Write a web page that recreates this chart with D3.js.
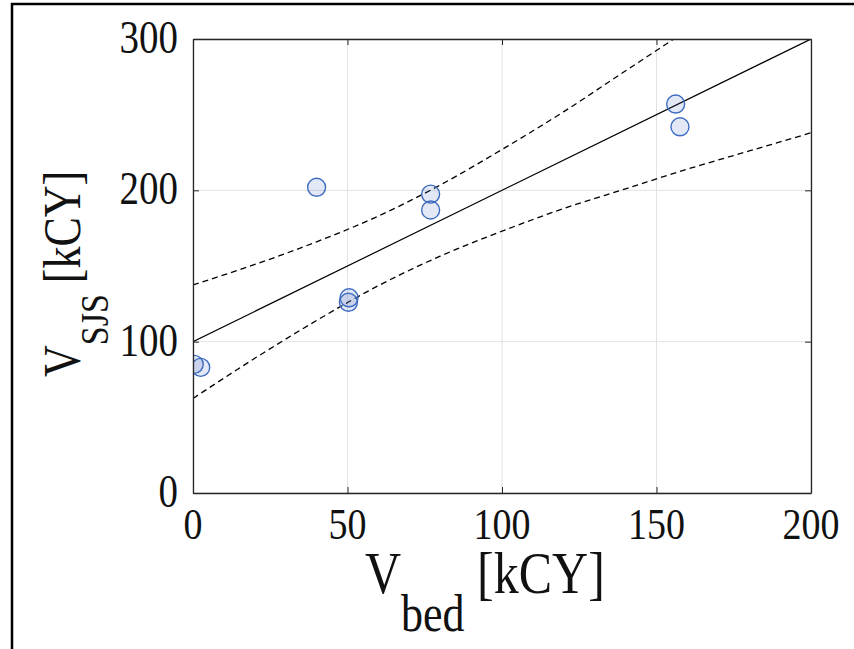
<!DOCTYPE html>
<html>
<head>
<meta charset="utf-8">
<script src="https://cdn.jsdelivr.net/npm/d3@7"></script>
<style>
  body { margin: 0; background: #fff; }
  svg { display: block; }
  text { font-family: "Liberation Serif", "Times New Roman", serif; fill: #111; }
</style>
</head>
<body>
<svg id="chart" width="854" height="649"></svg>
<script>
// measured points
const vBed = [0.4, 2.5, 40, 50.5, 50.3, 76.9, 76.9, 156.2, 157.6];
const vSjs = [85, 83, 202, 129, 126, 197.5, 187, 257, 242];

// fitted line and dashed bounds
const fitX = [0, 200];
const fitY = [100, 300];
const boundX = [0, 20, 40, 60, 80, 100, 120, 140, 160, 180, 200];
const upperY = [137.5, 151, 166, 183, 203.5, 227, 252, 279, 306, 334, 362];
const lowerY = [62.5, 89, 114, 137, 156.5, 173, 188, 201, 214, 226, 238];

const xTicks = [0, 50, 100, 150, 200];
const yTicks = [0, 100, 200, 300];

const svg = d3.select('#chart');
const pLeft = 193, pRight = 811, pTop = 39, pBottom = 493;
const stretch = 1.18; // the glyphs in the figure are taller than plain Times

const x = d3.scaleLinear().domain([0, 200]).range([pLeft, pRight]);
const y = d3.scaleLinear().domain([0, 300]).range([pBottom, pTop]);

// outer frame (top and left edges only)
svg.append('line').attr('x1', 11).attr('x2', 854).attr('y1', 4).attr('y2', 4)
  .attr('stroke', '#000').attr('stroke-width', 2.5);
svg.append('line').attr('x1', 12).attr('x2', 12).attr('y1', 3).attr('y2', 649)
  .attr('stroke', '#000').attr('stroke-width', 2.5);

// grid
svg.append('g')
  .selectAll('line')
  .data(xTicks)
  .enter()
  .append('line')
  .attr('x1', (d) => x(d)).attr('x2', (d) => x(d))
  .attr('y1', pTop).attr('y2', pBottom)
  .attr('stroke', '#e2e2e2').attr('stroke-width', 1);
svg.append('g')
  .selectAll('line')
  .data(yTicks)
  .enter()
  .append('line')
  .attr('x1', pLeft).attr('x2', pRight)
  .attr('y1', (d) => y(d)).attr('y2', (d) => y(d))
  .attr('stroke', '#e2e2e2').attr('stroke-width', 1);

svg.append('clipPath').attr('id', 'clip')
  .append('rect').attr('x', pLeft).attr('y', pTop)
  .attr('width', pRight - pLeft).attr('height', pBottom - pTop);

const plot = svg.append('g').attr('clip-path', 'url(#clip)');

const curve = d3.line().x((d) => x(d[0])).y((d) => y(d[1])).curve(d3.curveMonotoneX);

plot.append('path')
  .datum(fitX.map((v, i) => [v, fitY[i]]))
  .attr('d', curve)
  .attr('fill', 'none').attr('stroke', '#000').attr('stroke-width', 1.2);

[upperY, lowerY].forEach((ys) => {
  plot.append('path')
    .datum(boundX.map((v, i) => [v, ys[i]]))
    .attr('d', curve)
    .attr('fill', 'none').attr('stroke', '#000').attr('stroke-width', 1.3)
    .attr('stroke-dasharray', '6,4');
});

plot.selectAll('circle')
  .data(vBed.map((v, i) => [v, vSjs[i]]))
  .enter()
  .append('circle')
  .attr('cx', (d) => x(d[0]))
  .attr('cy', (d) => y(d[1]))
  .attr('r', 9)
  .attr('fill', 'rgba(60,100,190,0.15)')
  .attr('stroke', '#3d6cc0').attr('stroke-width', 1.4);

// axes: box with inward ticks on all sides
const tick = 6;
const axisCol = '#262626';
svg.append('g').attr('transform', `translate(0,${pBottom})`)
  .call(d3.axisBottom(x).tickValues(xTicks).tickSizeInner(-tick).tickSizeOuter(0).tickFormat(''))
  .call((g) => g.selectAll('line,path').attr('stroke', axisCol));
svg.append('g').attr('transform', `translate(0,${pTop})`)
  .call(d3.axisTop(x).tickValues(xTicks).tickSizeInner(-tick).tickSizeOuter(0).tickFormat(''))
  .call((g) => g.selectAll('line,path').attr('stroke', axisCol));
svg.append('g').attr('transform', `translate(${pLeft},0)`)
  .call(d3.axisLeft(y).tickValues(yTicks).tickSizeInner(-tick).tickSizeOuter(0).tickFormat(''))
  .call((g) => g.selectAll('line,path').attr('stroke', axisCol));
svg.append('g').attr('transform', `translate(${pRight},0)`)
  .call(d3.axisRight(y).tickValues(yTicks).tickSizeInner(-tick).tickSizeOuter(0).tickFormat(''))
  .call((g) => g.selectAll('line,path').attr('stroke', axisCol));
svg.selectAll('.domain').attr('stroke-width', 1.3);

// tick labels
svg.append('g')
  .selectAll('text')
  .data(xTicks)
  .enter()
  .append('text')
  .attr('transform', (d) => `translate(${x(d)},539) scale(1,${stretch})`)
  .attr('text-anchor', 'middle')
  .attr('font-size', 38)
  .text((d) => d);
svg.append('g')
  .selectAll('text')
  .data(yTicks)
  .enter()
  .append('text')
  .attr('transform', (d) => `translate(178,${y(d) + 14}) scale(1,${stretch})`)
  .attr('text-anchor', 'end')
  .attr('font-size', 39)
  .text((d) => d);

// axis labels
const xl = svg.append('text')
  .attr('transform', `translate(365,593) scale(1,${stretch})`)
  .attr('font-size', 50);
xl.append('tspan').text('V');
xl.append('tspan').attr('font-size', 44).attr('dy', 32).text('bed');
xl.append('tspan').attr('dy', -32).text(' [kCY]');

const yl = svg.append('text')
  .attr('transform', `translate(80,377) rotate(-90) scale(1,${stretch})`)
  .attr('font-size', 44);
yl.append('tspan').text('V');
yl.append('tspan').attr('font-size', 34).attr('dy', 24).text('SJS');
yl.append('tspan').attr('dy', -24).text(' [kCY]');
</script>
</body>
</html>
